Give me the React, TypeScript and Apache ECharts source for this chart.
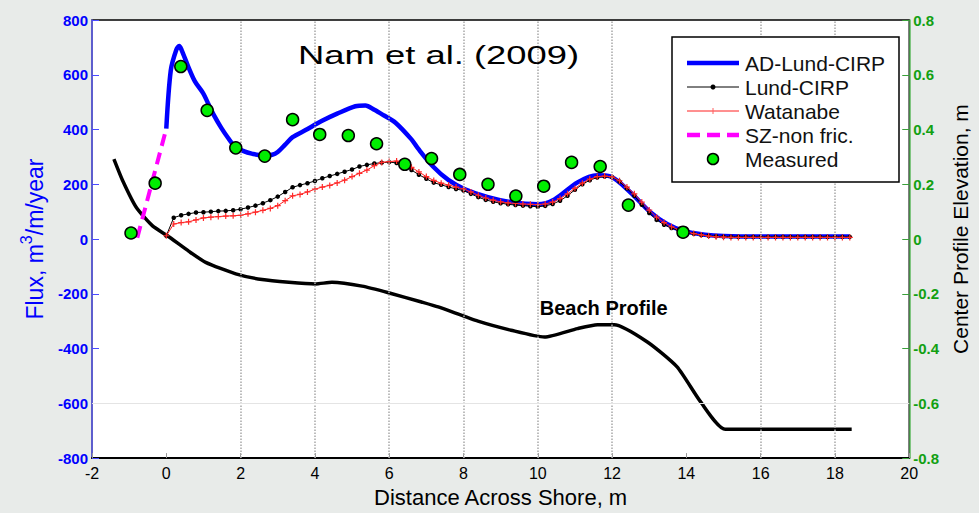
import React, { useEffect, useRef } from "react";
import * as echarts from "echarts";

// Model grid (m) for Lund-CIRP and Watanabe outputs
const modelX = [
  0, 0.2, 0.4, 0.6, 0.8, 1, 1.2, 1.4, 1.6, 1.8,
  2, 2.2, 2.4, 2.6, 2.8, 3, 3.2, 3.4, 3.6, 3.8,
  4, 4.2, 4.4, 4.6, 4.8, 5, 5.2, 5.4, 5.6, 5.8,
  6, 6.2, 6.4, 6.6, 6.8, 7, 7.2, 7.4, 7.6, 7.8,
  8, 8.2, 8.4, 8.6, 8.8, 9, 9.2, 9.4, 9.6, 9.8,
  10, 10.2, 10.4, 10.6, 10.8, 11, 11.2, 11.4, 11.6, 11.8,
  12, 12.2, 12.4, 12.6, 12.8, 13, 13.2, 13.4, 13.6, 13.8,
  14, 14.2, 14.4, 14.6, 14.8, 15, 15.2, 15.4, 15.6, 15.8,
  16, 16.2, 16.4, 16.6, 16.8, 17, 17.2, 17.4, 17.6, 17.8,
  18, 18.2, 18.4,
];
const lundFlux = [
  12, 78, 87, 92, 97, 98, 100, 102, 103, 105,
  109, 115, 122, 131, 142, 155, 172, 189, 197, 204,
  212, 222, 230, 238, 246, 254, 265, 271, 276, 279,
  281, 278, 268, 252, 235, 220, 206, 198, 190, 183,
  177, 165, 153, 143, 136, 131, 127, 124, 122, 120,
  118, 121, 128, 140, 158, 180, 200, 215, 225, 228,
  226, 210, 185, 158, 125, 95, 70, 52, 40, 31,
  25, 19, 15, 12, 10, 9, 8, 8, 8, 8,
  8, 8, 8, 8, 8, 8, 8, 8, 8, 8,
  8, 8, 8,
];
const watanabeFlux = [
  12, 55, 60, 63, 70, 77, 80, 82, 84, 85,
  87, 92, 98, 105, 112, 122, 140, 158, 163, 172,
  182, 190, 196, 205, 215, 228, 240, 252, 268, 280,
  283, 285, 278, 262, 245, 228, 214, 204, 197, 190,
  183, 172, 160, 150, 142, 136, 132, 130, 128, 127,
  126, 128, 135, 148, 165, 185, 204, 219, 228, 230,
  227, 213, 190, 165, 135, 106, 80, 60, 45, 34,
  27, 20, 15, 11, 8, 7, 6, 6, 6, 6,
  6, 6, 6, 6, 6, 6, 6, 6, 6, 6,
  6, 6, 6,
];

const adX = [
  0, 0.12, 0.27, 0.35, 0.41, 0.59, 0.77, 0.99, 1.12, 1.3, 1.48, 1.66, 1.84,
  2.1, 2.3, 2.6, 2.85, 3.0, 3.2, 3.4, 3.75, 4.18, 4.6, 5.09, 5.36, 5.6, 5.85,
  6.17, 6.6, 6.78, 7.18, 7.6, 8.04, 8.66, 9.28, 10.0, 10.45, 11.07, 11.6, 11.95,
  12.49, 13.03, 13.48, 13.94, 14.5, 15.0, 16, 18.4,
];
const adFlux = [
  403, 615, 691, 705, 691, 630, 576, 533, 497, 448, 406, 370, 339,
  320, 312, 305, 308, 318, 345, 372, 398, 431, 458, 485, 488, 472, 452,
  425, 364, 330, 265, 215, 182, 153, 135, 127, 145, 207, 233, 229,
  171, 98, 55, 29, 16, 11, 9, 9,
];

const szX = [-0.78, 0];
const szFlux = [5, 403];

const measuredX = [
  -0.95, -0.3, 0.39, 1.1, 1.87, 2.65, 3.4, 4.13, 4.9, 5.66,
  6.42, 7.14, 7.9, 8.66, 9.41, 10.16, 10.91, 11.68, 12.44, 13.91,
];
const measuredFlux = [
  22, 204, 630, 470, 333, 303, 436, 382, 378, 348,
  273, 294, 236, 200, 157, 193, 280, 265, 124, 25,
];

const profileX = [
  -1.41, -1.17, -0.81, -0.37, 0.03, 0.61, 1.06, 1.87, 2.58, 3.3, 4.01, 4.46,
  5.27, 5.98, 6.87, 7.32, 8.39, 9.28, 10.18, 11.07, 11.61, 12.06, 12.95,
  13.75, 14.38, 15.05, 18.45,
];
const profileElev = [
  0.292, 0.212, 0.116, 0.048, 0.012, -0.045, -0.085, -0.127, -0.148, -0.158,
  -0.164, -0.158, -0.172, -0.196, -0.23, -0.248, -0.3, -0.333, -0.358, -0.327,
  -0.313, -0.313, -0.376, -0.467, -0.594, -0.695, -0.695,
];

const gridLinesX = [2, 4, 6, 8, 10, 12, 16, 18];

const legendNames = ["AD-Lund-CIRP", "Lund-CIRP", "Watanabe", "SZ-non fric.", "Measured"];

const FONT = "'Liberation Sans', Arial, Helvetica, sans-serif";
const BLUE = "#0000ff";
const GREEN_TXT = "#12a012";
const PLUS = "path://M2,0H3V2H5V3H3V5H2V3H0V2H2Z";

export default function App() {
  const ref = useRef<HTMLDivElement>(null);

  useEffect(() => {
    const chart = echarts.init(ref.current!, null, { renderer: "svg" });
    const pairs = (xs: number[], ys: number[]) => xs.map((x, i) => [x, ys[i]]);

    const lx1 = 687;
    const lx2 = 739;
    const rowY = [63, 87, 111, 135, 159];

    const legendGraphics: any[] = [
      {
        type: "rect",
        shape: { x: 672, y: 37, width: 227, height: 145 },
        style: { fill: "#fff", stroke: "#000", lineWidth: 1.5 },
        z: 100,
      },
      {
        type: "line",
        shape: { x1: lx1, y1: rowY[0], x2: lx2, y2: rowY[0] },
        style: { stroke: BLUE, lineWidth: 4.5 },
        z: 101,
      },
      {
        type: "line",
        shape: { x1: lx1, y1: rowY[1], x2: lx2, y2: rowY[1] },
        style: { stroke: "#000", lineWidth: 1 },
        z: 101,
      },
      {
        type: "circle",
        shape: { cx: 713, cy: rowY[1], r: 2.5 },
        style: { fill: "#000" },
        z: 102,
      },
      {
        type: "line",
        shape: { x1: lx1, y1: rowY[2], x2: lx2, y2: rowY[2] },
        style: { stroke: "#ff2020", lineWidth: 1 },
        z: 101,
      },
      {
        type: "line",
        shape: { x1: 713, y1: rowY[2] - 3, x2: 713, y2: rowY[2] + 3 },
        style: { stroke: "#ff6060", lineWidth: 1 },
        z: 102,
      },
      {
        type: "line",
        shape: { x1: lx1, y1: rowY[3], x2: lx2, y2: rowY[3] },
        style: { stroke: "#ff00ff", lineWidth: 4.5, lineDash: [13, 7] },
        z: 101,
      },
      {
        type: "circle",
        shape: { cx: 713, cy: rowY[4], r: 5.5 },
        style: { fill: "#00ee00", stroke: "#000", lineWidth: 1.5 },
        z: 102,
      },
      ...legendNames.map((n, i) => ({
        type: "text",
        x: 745,
        y: rowY[i],
        style: {
          text: n,
          fontSize: 21,
          fontFamily: FONT,
          fill: "#111",
          align: "left",
          verticalAlign: "middle",
        },
        z: 102,
      })),
    ];

    const option: any = {
      animation: false,
      backgroundColor: "#e8ebe9",
      textStyle: { fontFamily: FONT },
      grid: {
        left: 92,
        right: 66,
        top: 20,
        bottom: 53,
        show: true,
        backgroundColor: "#ffffff",
        borderColor: "#000",
        borderWidth: 1.5,
      },
      xAxis: {
        type: "value",
        min: -2,
        max: 20,
        interval: 2,
        name: "Distance Across Shore, m",
        nameLocation: "middle",
        nameGap: 27,
        nameTextStyle: { color: "#000", fontSize: 22, fontFamily: FONT },
        axisLine: { onZero: false, lineStyle: { color: "#000", width: 2 } },
        axisTick: { inside: true, length: 5, lineStyle: { color: "#999" } },
        axisLabel: { color: "#000", fontSize: 16, margin: 7, fontFamily: FONT },
        splitLine: { show: false },
      },
      yAxis: [
        {
          type: "value",
          min: -800,
          max: 800,
          interval: 200,
          position: "left",
          name: "{a|Flux, m}{s|3}{a|/m/year}",
          nameLocation: "middle",
          nameRotate: 90,
          nameGap: 46,
          nameTextStyle: {
            rich: {
              a: { fontSize: 23, color: BLUE, fontFamily: FONT, lineHeight: 28, verticalAlign: "bottom" },
              s: { fontSize: 16, color: BLUE, fontFamily: FONT, lineHeight: 16, verticalAlign: "top" },
            },
          },
          axisLine: { show: true, onZero: false, lineStyle: { color: "#6a6aff", width: 1.5 } },
          axisTick: { show: true, inside: true, length: 7, lineStyle: { color: "#4a4aff" } },
          axisLabel: { color: BLUE, fontSize: 15, fontWeight: "bold", margin: 4, fontFamily: FONT },
          splitLine: { show: false },
        },
        {
          type: "value",
          min: -0.8,
          max: 0.8,
          interval: 0.2,
          position: "right",
          name: "Center Profile Elevation, m",
          nameLocation: "middle",
          nameRotate: 90,
          nameGap: 38,
          nameTextStyle: { color: "#000", fontSize: 21, fontFamily: FONT, padding: [0, 0, 0, 20] },
          axisLine: { show: true, onZero: false, lineStyle: { color: "#5cb85c", width: 1.5 } },
          axisTick: { show: true, inside: true, length: 7, lineStyle: { color: "#3aa03a" } },
          axisLabel: { color: GREEN_TXT, fontSize: 15, fontWeight: "bold", margin: 4, fontFamily: FONT },
          splitLine: { show: false },
        },
      ],
      series: [
        {
          type: "line",
          name: "Beach Profile",
          yAxisIndex: 1,
          data: pairs(profileX, profileElev),
          symbol: "none",
          showSymbol: false,
          smooth: 0.2,
          lineStyle: { color: "#000", width: 3.5 },
          z: 1,
          markLine: {
            silent: true,
            symbol: "none",
            label: { show: false },
            lineStyle: { color: "#a8a8a8", type: "dotted", width: 1.5 },
            data: [
              ...gridLinesX.map((v) => ({ xAxis: v })),
              { yAxis: -0.6, lineStyle: { color: "#e4e4e4", type: "solid", width: 1 } },
            ],
          },
          markPoint: {
            symbol: "circle",
            symbolSize: 0,
            itemStyle: { color: "rgba(0,0,0,0)" },
            label: {
              show: true,
              formatter: "Beach Profile",
              position: "right",
              distance: 5,
              fontSize: 20,
              fontWeight: "bold",
              color: "#000",
              fontFamily: FONT,
            },
            data: [{ coord: [9.92, -0.251], value: 0 }],
          },
        },
        {
          type: "line",
          name: "AD-Lund-CIRP",
          data: pairs(adX, adFlux),
          symbol: "none",
          showSymbol: false,
          smooth: 0.3,
          lineStyle: { color: BLUE, width: 4.5 },
          z: 2,
        },
        {
          type: "line",
          name: "Lund-CIRP",
          data: pairs(modelX, lundFlux),
          symbol: "circle",
          symbolSize: 4.5,
          showSymbol: true,
          itemStyle: { color: "#000" },
          lineStyle: { color: "#000", width: 1 },
          z: 3,
        },
        {
          type: "line",
          name: "Watanabe",
          data: pairs(modelX, watanabeFlux),
          symbol: PLUS,
          symbolSize: 6,
          showSymbol: true,
          itemStyle: { color: "#ff2a2a" },
          lineStyle: { color: "#ff2020", width: 1 },
          z: 4,
        },
        {
          type: "line",
          name: "SZ-non fric.",
          data: pairs(szX, szFlux),
          symbol: "none",
          showSymbol: false,
          lineStyle: { color: "#ff00ff", width: 4, type: [12, 7] },
          z: 5,
        },
        {
          type: "scatter",
          name: "Measured",
          data: pairs(measuredX, measuredFlux),
          symbol: "circle",
          symbolSize: 12,
          itemStyle: { color: "#00ee00", opacity: 1, borderColor: "#000", borderWidth: 1.5 },
          z: 6,
        },
      ],
      graphic: [
        {
          type: "text",
          x: 298,
          y: 55,
          scaleX: 1.4,
          style: {
            text: "Nam et al. (2009)",
            fontSize: 26,
            fontFamily: FONT,
            fill: "#000",
            align: "left",
            verticalAlign: "middle",
          },
          z: 100,
        },
        ...legendGraphics,
      ],
    };

    chart.setOption(option);
    return () => chart.dispose();
  }, []);

  return (
    <div
      ref={ref}
      style={{ position: "fixed", left: 0, top: 0, width: 979, height: 513 }}
    />
  );
}
